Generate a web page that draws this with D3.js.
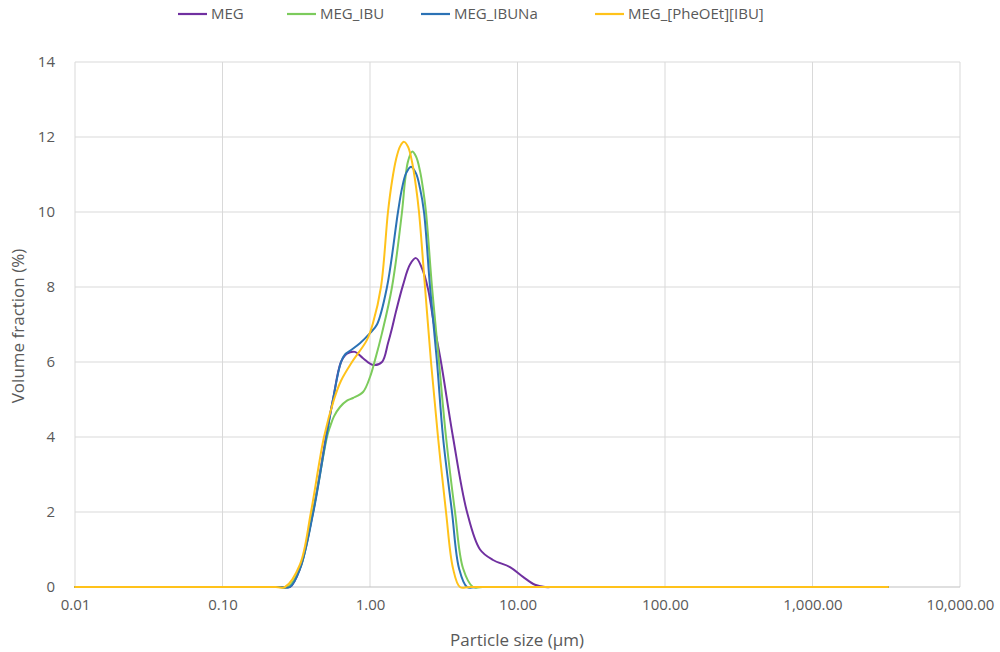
<!DOCTYPE html>
<html>
<head>
<meta charset="utf-8">
<script src="https://cdn.jsdelivr.net/npm/d3@7"></script>
<style>
  html, body { margin: 0; padding: 0; background: #ffffff; }
  svg { display: block; }
  text { font-family: "Open Sans", "Liberation Sans", sans-serif; fill: #595959; }
</style>
</head>
<body>
<svg id="chart" width="1000" height="652"></svg>
<script>
// ---- Data (particle size in µm, volume fraction in %) ----
const seriesNames = ["MEG", "MEG_IBU", "MEG_IBUNa", "MEG_[PheOEt][IBU]"];
const seriesColors = ["#7030A0", "#7CCB5C", "#2B72B5", "#FFC21A"];

const megSize = [0.01, 0.25, 0.2868, 0.3353, 0.4108, 0.503, 0.5613, 0.636, 0.698, 0.791, 0.897, 1.048, 1.206, 1.324, 1.41, 1.501, 1.674, 1.867, 2.051, 2.252, 2.473, 2.716, 3.029, 3.653, 4.547, 5.57, 6.823, 8.896, 10.9, 13.14, 15.37, 18, 3250];
const megVol  = [0, 0, 0, 0.5, 2.0, 4.0, 5.0, 6.0, 6.22, 6.27, 6.1, 5.92, 6.0, 6.5, 6.9, 7.35, 8.05, 8.6, 8.77, 8.5, 7.95, 7.0, 6.0, 4.0, 2.0, 1.0, 0.72, 0.53, 0.27, 0.06, 0, 0, 0];

const ibuSize = [0.01, 0.24, 0.278, 0.3353, 0.4108, 0.511, 0.5356, 0.57, 0.626, 0.698, 0.767, 0.897, 1.0, 1.081, 1.206, 1.41, 1.648, 1.727, 1.81, 1.927, 2.051, 2.184, 2.288, 2.397, 2.632, 2.936, 3.276, 3.77, 4.271, 4.993, 5.8, 3250];
const ibuVol  = [0, 0, 0, 0.5, 2.0, 4.0, 4.27, 4.55, 4.8, 4.97, 5.04, 5.2, 5.6, 6.05, 6.77, 8.0, 10.0, 10.82, 11.35, 11.61, 11.48, 11.09, 10.62, 10.0, 8.0, 6.0, 4.0, 2.0, 0.5, 0, 0, 0];

const ibunaSize = [0.01, 0.25, 0.2868, 0.3353, 0.4108, 0.503, 0.5613, 0.636, 0.677, 0.732, 0.855, 1.0, 1.115, 1.304, 1.548, 1.648, 1.755, 1.897, 2.051, 2.184, 2.323, 2.552, 2.846, 3.126, 3.596, 4.012, 4.547, 5.3, 3250];
const ibunaVol  = [0, 0, 0, 0.48, 1.95, 3.95, 5.0, 6.0, 6.2, 6.3, 6.5, 6.77, 7.0, 8.0, 10.0, 10.63, 11.03, 11.21, 11.03, 10.63, 10.0, 8.0, 6.0, 4.0, 2.0, 0.5, 0, 0, 0];

const pheSize = [0.01, 0.23, 0.2653, 0.3353, 0.398, 0.4877, 0.57, 0.636, 0.755, 0.954, 1.048, 1.187, 1.324, 1.41, 1.501, 1.6, 1.700, 1.81, 1.927, 2.051, 2.149, 2.360, 2.592, 2.891, 3.276, 3.653, 4.075, 4.8, 3250];
const pheVol  = [0, 0, 0, 0.6, 2.0, 4.0, 5.0, 5.5, 6.0, 6.59, 7.04, 8.0, 10.0, 10.82, 11.4, 11.75, 11.87, 11.74, 11.34, 10.67, 10.0, 8.0, 6.0, 4.0, 2.0, 0.5, 0, 0, 0];

const xTicks = [0.01, 0.1, 1, 10, 100, 1000, 10000];
const yTicks = [0, 2, 4, 6, 8, 10, 12, 14];
const xTitle = "Particle size (µm)";
const yTitle = "Volume fraction (%)";

// ---- Build ----
const sizes = [megSize, ibuSize, ibunaSize, pheSize];
const vols = [megVol, ibuVol, ibunaVol, pheVol];
const series = seriesNames.map((name, i) => ({
  name, color: seriesColors[i],
  points: sizes[i].map((s, j) => ({ x: s, y: vols[i][j] }))
}));

const svg = d3.select("#chart");
const L = 75, R = 960, T = 62, B = 587;
const x = d3.scaleLog().domain([0.01, 10000]).range([L, R]);
const y = d3.scaleLinear().domain([0, 14]).range([B, T]);

// gridlines
svg.append("g").selectAll("line").data(yTicks.filter(d => d > 0)).join("line")
  .attr("x1", L).attr("x2", R).attr("y1", d => y(d)).attr("y2", d => y(d))
  .attr("stroke", "#d9d9d9").attr("stroke-width", 1);
svg.append("g").selectAll("line").data(xTicks).join("line")
  .attr("x1", d => x(d)).attr("x2", d => x(d)).attr("y1", T).attr("y2", B)
  .attr("stroke", "#d9d9d9").attr("stroke-width", 1);
svg.append("line").attr("x1", L).attr("x2", R).attr("y1", B).attr("y2", B)
  .attr("stroke", "#bfbfbf").attr("stroke-width", 1.2);

// axes labels via d3 axes
const fmt = d3.format(",.2f");
const xAxis = svg.append("g").attr("transform", `translate(0,${B + 9})`)
  .call(d3.axisBottom(x).tickValues(xTicks).tickFormat(fmt).tickSize(0));
xAxis.select(".domain").remove();
xAxis.selectAll("text").attr("font-size", 15).attr("dy", "0.71em").style("fill", "#595959")
  .style("font-family", '"Open Sans", sans-serif');

const yAxis = svg.append("g").attr("transform", `translate(${L - 17},0)`)
  .call(d3.axisLeft(y).tickValues(yTicks).tickFormat(d3.format("d")).tickSize(0));
yAxis.select(".domain").remove();
yAxis.selectAll("text").attr("font-size", 15).style("fill", "#595959")
  .style("font-family", '"Open Sans", sans-serif');

// axis titles
svg.append("text").attr("x", 517).attr("y", 646).attr("text-anchor", "middle")
  .attr("font-size", 17).text(xTitle);
svg.append("text").attr("transform", "translate(24,326) rotate(-90)").attr("text-anchor", "middle")
  .attr("font-size", 17).text(yTitle);

// lines
const line = d3.line().x(d => x(d.x)).y(d => y(d.y)).curve(d3.curveCatmullRom.alpha(0.5));
svg.append("g").selectAll("path").data(series).join("path")
  .attr("d", d => line(d.points))
  .attr("fill", "none").attr("stroke", d => d.color).attr("stroke-width", 2)
  .attr("stroke-linejoin", "round").attr("stroke-linecap", "round");

// legend
const legendX = [178, 287, 421, 595];
const lg = svg.append("g").selectAll("g").data(series).join("g")
  .attr("transform", (d, i) => `translate(${legendX[i]},14)`);
lg.append("line").attr("x1", 0).attr("x2", 29).attr("y1", 0).attr("y2", 0)
  .attr("stroke", d => d.color).attr("stroke-width", 2.2);
lg.append("text").attr("x", 33).attr("y", 0).attr("dy", "0.35em").attr("font-size", 15)
  .text(d => d.name);
</script>
</body>
</html>
